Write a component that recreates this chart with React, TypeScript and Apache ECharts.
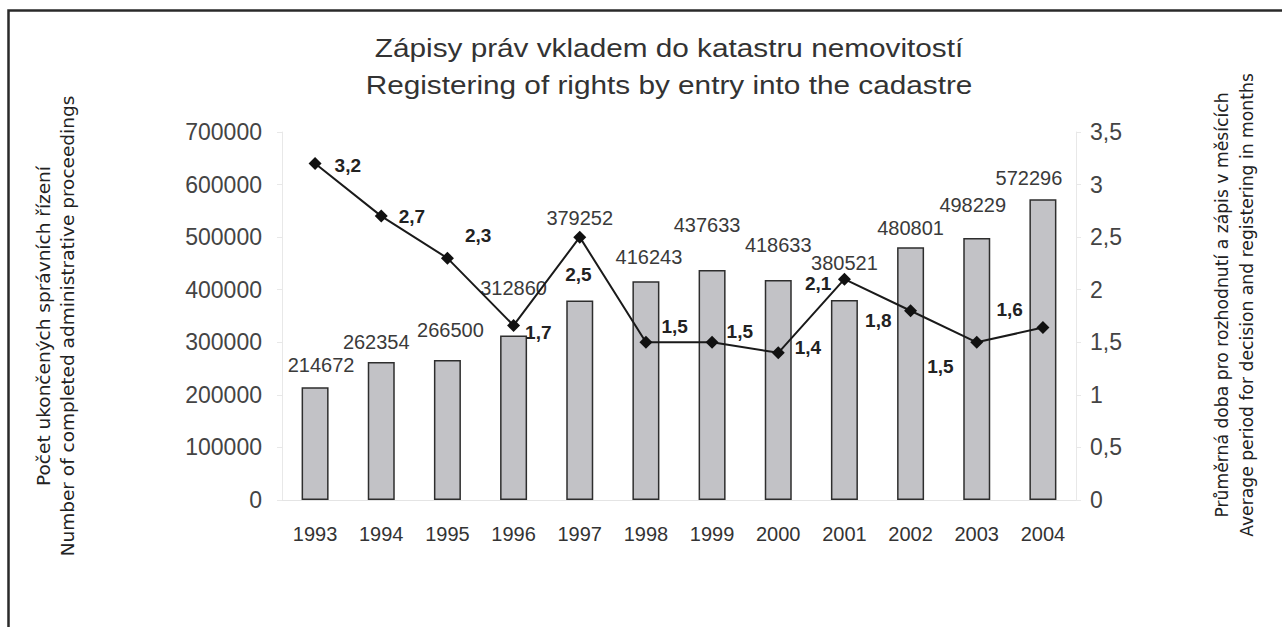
import React, { useEffect, useRef } from "react";
import * as echarts from "echarts";

const years = ["1993", "1994", "1995", "1996", "1997", "1998", "1999", "2000", "2001", "2002", "2003", "2004"];
const proceedings = [214672, 262354, 266500, 312860, 379252, 416243, 437633, 418633, 380521, 480801, 498229, 572296];
const months = [3.2, 2.7, 2.3, 1.66, 2.5, 1.5, 1.5, 1.4, 2.1, 1.8, 1.5, 1.64];

// label placement tweaks (pixels)
const barLabelOffsets = [[6, -7], [-5, -5], [3, -15], [0, -33], [0, -68], [3, -9], [-5, -30], [0, -20], [0, -22], [0, -4], [-4, -18], [-14, -6]];
const lineLabelOffsets = [[8, 2], [6, 0], [6, -23], [0, 7], [-26, 37], [4, -16], [3, -11], [5, -5], [-51, 4], [-57, 10], [-61, 24], [-58, -18]];

const titleLines = ["Zápisy práv vkladem do katastru nemovitostí", "Registering of rights by entry into the cadastre"];
const leftName = ["Počet ukončených správních řízení", "Number of completed administrative proceedings"];
const rightName = ["Průměrná doba pro rozhodnutí a zápis v měsících", "Average period for decision and registering in months"];

const comma = (v: number) => String(v).replace(".", ",");

export default function App() {
  const ref = useRef<HTMLDivElement>(null);
  useEffect(() => {
    const chart = echarts.init(ref.current!, null, { renderer: "svg" });
    const arial = "Liberation Sans, Arial, sans-serif";
    const dejavu = "DejaVu Sans, sans-serif";
    const nameText = (x: number, y: number, text: string, size: number) => ({
      type: "text", x, y, rotation: Math.PI / 2,
      style: { text, font: `${size}px ${dejavu}`, fill: "#222", align: "center", verticalAlign: "middle" },
    });
    chart.setOption({
      animation: false,
      backgroundColor: "#ffffff",
      graphic: [
        { type: "rect", shape: { x: 8.5, y: 10.5, width: 1400, height: 800 }, style: { fill: "none", stroke: "#2a2a2a", lineWidth: 2.5 }, silent: true },
        { type: "text", x: 669, y: 48, scaleX: 1.19, style: { text: titleLines[0], font: `25px ${arial}`, fill: "#333", align: "center", verticalAlign: "middle" } },
        { type: "text", x: 669, y: 85, scaleX: 1.19, style: { text: titleLines[1], font: `25px ${arial}`, fill: "#333", align: "center", verticalAlign: "middle" } },
        nameText(43, 326, leftName[0], 18.5),
        nameText(67, 326, leftName[1], 18.5),
        nameText(1222, 305, rightName[0], 17.2),
        nameText(1247, 305, rightName[1], 17.2),
      ],
      grid: { left: 282, right: 206, top: 132, bottom: 127 },
      xAxis: {
        type: "category",
        data: years,
        axisLine: { lineStyle: { color: "#e4e4e4", width: 1 } },
        axisTick: { show: false },
        axisLabel: { color: "#333", fontSize: 20, fontFamily: arial, margin: 24 },
      },
      yAxis: [
        {
          type: "value",
          min: 0,
          max: 700000,
          interval: 100000,
          axisLine: { show: true, lineStyle: { color: "#e8e8e8" } },
          axisTick: { show: true, lineStyle: { color: "#e8e8e8" } },
          splitLine: { show: false },
          axisLabel: { color: "#444", fontSize: 23, fontFamily: arial, margin: 20, formatter: (v: number) => String(v) },
        },
        {
          type: "value",
          min: 0,
          max: 3.5,
          interval: 0.5,
          axisLine: { show: true, lineStyle: { color: "#e8e8e8" } },
          axisTick: { show: true, lineStyle: { color: "#e8e8e8" } },
          splitLine: { show: false },
          axisLabel: { color: "#444", fontSize: 23, fontFamily: arial, margin: 14, formatter: (v: number) => comma(v) },
        },
      ],
      series: [
        {
          type: "bar",
          yAxisIndex: 0,
          barWidth: 27,
          itemStyle: { color: "#c2c2c6", borderColor: "#2e2e2e", borderWidth: 1.5 },
          data: proceedings.map((v, i) => ({
            value: v,
            label: {
              show: true,
              position: "top",
              distance: 5,
              offset: barLabelOffsets[i],
              color: "#3a3a3a",
              fontSize: 20,
              lineHeight: 20,
              fontFamily: arial,
            },
          })),
        },
        {
          type: "line",
          yAxisIndex: 1,
          symbol: "diamond",
          symbolSize: 13,
          lineStyle: { color: "#1a1a1a", width: 2 },
          itemStyle: { color: "#111" },
          z: 5,
          data: months.map((v, i) => ({
            value: v,
            label: {
              show: true,
              position: "right",
              distance: 5,
              offset: lineLabelOffsets[i],
              color: "#222",
              fontSize: 19,
              fontWeight: "bold",
              fontFamily: arial,
              formatter: () => comma(Number(v.toFixed(1))),
            },
          })),
        },
      ],
    });
    return () => chart.dispose();
  }, []);
  return <div ref={ref} style={{ position: "fixed", left: 0, top: 0, width: 1282, height: 627 }} />;
}
